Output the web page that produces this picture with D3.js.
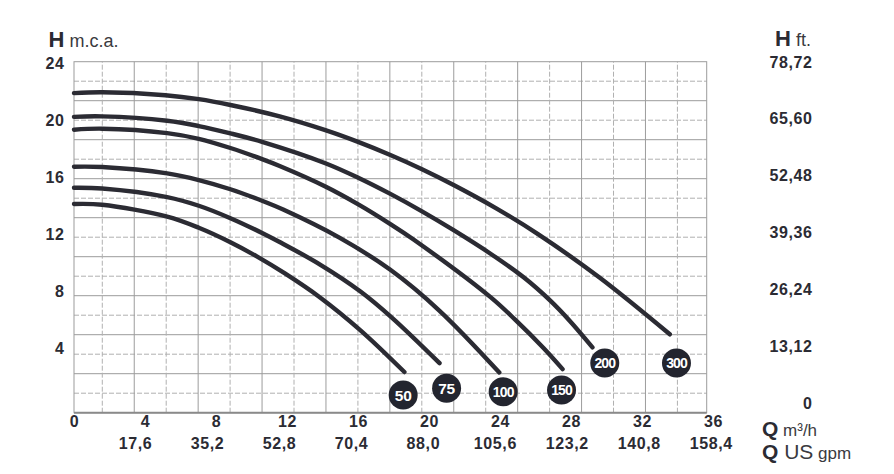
<!DOCTYPE html>
<html>
<head>
<meta charset="utf-8">
<script src="https://cdn.jsdelivr.net/npm/d3@7/dist/d3.min.js"></script>
<style>
  html, body { margin: 0; padding: 0; background: #ffffff; }
  svg { display: block; font-family: "Liberation Sans", Arial, sans-serif; }
</style>
</head>
<body>
<svg id="chart" width="894" height="474"></svg>
<script>
// ---------- data ----------
const curveNames = ["300", "200", "150", "100", "75", "50"];

const q300 = [0, 1.6, 5.2, 7.1, 8.9, 11.7, 14.3, 16.2, 18.0, 19.8, 21.6, 24.0, 26.4, 29.9, 33.9];
const h300 = [21.85, 21.91, 21.71, 21.44, 21.04, 20.26, 19.32, 18.5, 17.62, 16.65, 15.57, 13.99, 12.21, 9.24, 5.36];

const q200 = [0, 1.6, 5.3, 7.1, 8.9, 10.7, 14.3, 16.2, 18.0, 19.8, 21.6, 23.7, 25.6, 27.1, 28.2, 29.5];
const h200 = [20.23, 20.26, 19.96, 19.6, 19.1, 18.52, 17.06, 16.05, 14.96, 13.77, 12.48, 10.87, 9.24, 7.66, 6.29, 4.47];

const q150 = [0, 1.6, 5.3, 7.1, 8.9, 10.7, 11.7, 14.3, 16.2, 18.0, 19.3, 23.7, 25.1, 26.7, 27.8];
const h150 = [19.35, 19.42, 19.12, 18.73, 18.1, 17.34, 16.87, 15.47, 14.23, 12.9, 11.86, 7.9, 6.36, 4.44, 2.98];

const q100 = [0, 1.6, 5.3, 7.1, 8.9, 10.7, 11.9, 15.1, 18.0, 20.8, 24.2];
const h100 = [16.82, 16.8, 16.36, 15.91, 15.28, 14.49, 13.89, 11.97, 9.77, 6.97, 2.75];

const q75 = [0, 1.6, 5.3, 7.1, 8.9, 10.7, 11.7, 14.0, 16.3, 18.1, 20.8];
const h75 = [15.38, 15.33, 14.74, 14.15, 13.3, 12.29, 11.67, 10.13, 8.29, 6.49, 3.39];

const q50 = [0, 1.6, 5.3, 7.1, 8.9, 10.4, 12.0, 14.0, 16.3, 18.8];
const h50 = [14.27, 14.22, 13.41, 12.65, 11.66, 10.69, 9.52, 7.88, 5.63, 2.78];

// badge anchor points (Q m3/h, H m)
const badgeQ = [34.28, 30.2, 27.74, 24.42, 21.2, 18.73];
const badgeH = [3.39, 3.39, 1.55, 1.43, 1.67, 1.21];

// tick labels
const qTicks = [0, 4, 8, 12, 16, 20, 24, 28, 32, 36];
const gpmTicks = ["17,6", "35,2", "52,8", "70,4", "88,0", "105,6", "123,2", "140,8", "158,4"];
const hTicks = [4, 8, 12, 16, 20, 24];
const ftTicks = ["0", "13,12", "26,24", "39,36", "52,48", "65,60", "78,72"];

// ---------- drawing ----------
const svg = d3.select("#chart");
const ink = "#2b2b33";

const x = d3.scaleLinear().domain([0, 36]).range([74, 706.7]);
const y = d3.scaleLinear().domain([0, 24]).range([412.7, 61.7]);

// grid
const grid = svg.append("g");
const hLines = d3.range(1, 18).map(k => k * 4 / 3);
grid.selectAll("line.h").data(hLines).join("line")
  .attr("x1", x(0)).attr("x2", x(36))
  .attr("y1", d => y(d)).attr("y2", d => y(d))
  .attr("stroke", (d, i) => i % 2 === 0 ? "#b0b0b0" : "#9c9c9c")
  .attr("stroke-width", 1)
  .attr("stroke-dasharray", (d, i) => i % 2 === 0 ? "5,2" : null);

const vLines = d3.range(0, 19).map(k => 1.61 + k * 1.818);
grid.selectAll("line.v").data(vLines).join("line")
  .attr("y1", y(0)).attr("y2", y(24))
  .attr("x1", d => x(d)).attr("x2", d => x(d))
  .attr("stroke", (d, i) => i % 2 === 0 ? "#b0b0b0" : "#9c9c9c")
  .attr("stroke-width", 1)
  .attr("stroke-dasharray", (d, i) => i % 2 === 0 ? "5,2" : null);

// frame
grid.append("rect")
  .attr("x", x(0)).attr("y", y(24))
  .attr("width", x(36) - x(0)).attr("height", y(0) - y(24))
  .attr("fill", "none").attr("stroke", "#9c9c9c").attr("stroke-width", 1);
grid.append("line")
  .attr("x1", x(0)).attr("x2", x(36)).attr("y1", y(0)).attr("y2", y(0))
  .attr("stroke", "#8a8a8a").attr("stroke-width", 2);

// curves
const series = [
  { name: "300", q: q300, h: h300 },
  { name: "200", q: q200, h: h200 },
  { name: "150", q: q150, h: h150 },
  { name: "100", q: q100, h: h100 },
  { name: "75", q: q75, h: h75 },
  { name: "50", q: q50, h: h50 }
];
const line = d3.line().x(d => x(d[0])).y(d => y(d[1])).curve(d3.curveCatmullRom.alpha(0.5));
svg.append("g").selectAll("path").data(series).join("path")
  .attr("d", s => line(s.q.map((v, i) => [v, s.h[i]])))
  .attr("fill", "none").attr("stroke", ink)
  .attr("stroke-width", 4.4).attr("stroke-linecap", "round");

// badges
const badges = svg.append("g").selectAll("g").data(curveNames).join("g")
  .attr("transform", (d, i) => `translate(${x(badgeQ[i])},${y(badgeH[i])})`);
badges.append("circle").attr("r", 14.5).attr("fill", "#23252f");
badges.append("text")
  .attr("text-anchor", "middle").attr("dy", "0.36em")
  .attr("font-size", d => d.length > 2 ? 14 : 15.5)
  .attr("font-weight", "bold")
  .attr("letter-spacing", d => d.length > 2 ? -0.9 : -0.3)
  .attr("fill", "#ffffff")
  .attr("stroke", "#23252f").attr("stroke-width", 0.6).attr("paint-order", "stroke")
  .text(d => d);

// left axis labels (H m.c.a.)
const yLab = d3.scaleLinear().domain([0, 24]).range([406, 63]);
const leftAxis = d3.axisLeft(yLab).tickValues(hTicks).tickSize(0).tickPadding(0);
const gl = svg.append("g").attr("transform", "translate(64.5,0)").call(leftAxis);
gl.select(".domain").remove();
gl.selectAll("text").attr("font-size", 16).attr("font-weight", "bold")
  .attr("fill", ink).attr("font-family", "Liberation Sans, Arial, sans-serif")
  .attr("letter-spacing", 0.6);

// right axis labels (H ft.)
const ftVals = ftTicks.map(t => +t.replace(",", "."));
const yFt = d3.scaleLinear().domain([0, 78.72]).range([403, 62]);
const rightAxis = d3.axisLeft(yFt).tickValues(ftVals).tickSize(0).tickPadding(0)
  .tickFormat((d, i) => ftTicks[i]);
const gr = svg.append("g").attr("transform", "translate(812.5,0)").call(rightAxis);
gr.select(".domain").remove();
gr.selectAll("text").attr("font-size", 16).attr("font-weight", "bold")
  .attr("fill", ink).attr("font-family", "Liberation Sans, Arial, sans-serif")
  .attr("letter-spacing", 0.6);

// bottom axis row 1 (m3/h)
const xLab = d3.scaleLinear().domain([0, 36]).range([74, 713]);
const bottomAxis = d3.axisBottom(xLab).tickValues(qTicks).tickSize(0).tickPadding(0);
const gb = svg.append("g").attr("transform", "translate(0,416)").call(bottomAxis);
gb.select(".domain").remove();
gb.selectAll("text").attr("font-size", 16).attr("font-weight", "bold")
  .attr("fill", ink).attr("font-family", "Liberation Sans, Arial, sans-serif")
  .attr("letter-spacing", 0.6).attr("dy", "0.71em");

// bottom axis row 2 (US gpm)
const gpmVals = gpmTicks.map(t => +t.replace(",", "."));
const xGpm = d3.scaleLinear().domain([0, 158.4]).range([63, 710.8]);
const gpmAxis = d3.axisBottom(xGpm).tickValues(gpmVals).tickSize(0).tickPadding(0)
  .tickFormat((d, i) => gpmTicks[i]);
const gg = svg.append("g").attr("transform", "translate(0,438)").call(gpmAxis);
gg.select(".domain").remove();
gg.selectAll("text").attr("font-size", 16).attr("font-weight", "bold")
  .attr("fill", ink).attr("font-family", "Liberation Sans, Arial, sans-serif")
  .attr("letter-spacing", 0.6).attr("dy", "0.71em");

// unit titles
function title(px, py, parts) {
  const t = svg.append("text").attr("x", px).attr("y", py).attr("fill", ink);
  parts.forEach(p => {
    t.append("tspan").attr("font-size", p.size).attr("font-weight", p.bold ? "bold" : "normal")
      .attr("fill", p.color || ink).text(p.text);
  });
}
title(48.5, 46.5, [{ text: "H", size: 22, bold: true }, { text: " m.c.a.", size: 18, color: "#3a3a40" }]);
title(775, 46, [{ text: "H", size: 22, bold: true }, { text: " ft.", size: 18, color: "#3a3a40" }]);
title(762, 435.5, [{ text: "Q", size: 21, bold: true }, { text: " m³/h", size: 17, color: "#3a3a40" }]);
title(762, 458.5, [{ text: "Q", size: 21, bold: true }, { text: " US", size: 21, color: "#3a3a40" }, { text: " gpm", size: 17, color: "#3a3a40" }]);
</script>
</body>
</html>
